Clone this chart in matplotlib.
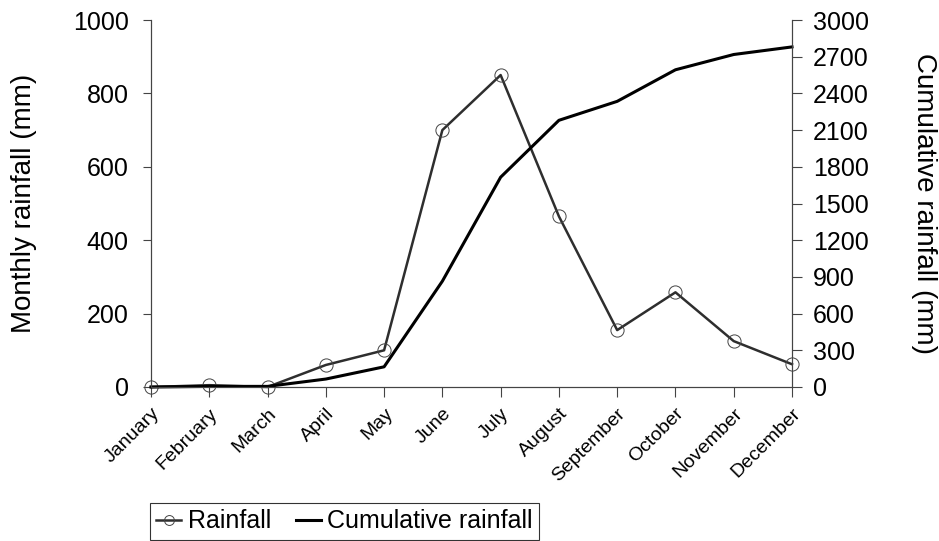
import numpy as np
import matplotlib.pyplot as plt

plt.rcParams['font.family'] = ['Liberation Sans', 'DejaVu Sans']

months = ['January', 'February', 'March', 'April', 'May', 'June', 'July',
          'August', 'September', 'October', 'November', 'December']
rainfall = [0, 5, 0, 60, 100, 700, 850, 465, 155, 258, 125, 62]
cumulative = np.cumsum(rainfall)

fig = plt.figure(figsize=(9.39, 5.41), dpi=100)
ax = fig.add_axes([151 / 939, 1 - 387 / 541, (792 - 151) / 939, (387 - 20) / 541])
ax2 = ax.twinx()

x = np.arange(len(months))
l1, = ax.plot(x, rainfall, color='#2e2e2e', lw=1.8, marker='o', ms=9.5,
              mfc='none', mec='#444444', mew=0.7, label='Rainfall',
              zorder=3, clip_on=False)
l2, = ax2.plot(x, cumulative, color='black', lw=2.2, label='Cumulative rainfall',
               clip_on=False)

ax.set_xlim(0, 11)
ax.set_ylim(0, 1000)
ax.set_yticks(range(0, 1001, 200))
ax2.set_ylim(0, 3000)
ax2.set_yticks(range(0, 3001, 300))

ax.set_xticks(x)
ax.set_xticklabels(months, rotation=45, ha='right', rotation_mode='anchor', fontsize=14)
ax.tick_params(axis='y', labelsize=18, length=6, pad=10, color='#444444')
ax.tick_params(axis='x', length=7, pad=6, color='#444444')
ax2.tick_params(axis='y', labelsize=18, length=7, pad=8, color='#444444')

for a in (ax, ax2):
    a.spines['top'].set_visible(False)
    for s in ('left', 'right', 'bottom'):
        a.spines[s].set_color('#444444')

ax.set_ylabel('Monthly rainfall (mm)', fontsize=20, labelpad=26)
ax2.set_ylabel('Cumulative rainfall (mm)', fontsize=20, rotation=270,
               va='bottom', labelpad=30)

leg = fig.legend(handles=[l1, l2], loc='upper left', ncol=2,
                 bbox_to_anchor=(150 / 939, 1 - 503 / 541), fontsize=18,
                 frameon=True, fancybox=False, handlelength=1.0,
                 handletextpad=0.25, columnspacing=1.0, borderpad=0.25,
                 borderaxespad=0, markerscale=0.75)
leg.get_frame().set_edgecolor('black')
leg.get_frame().set_linewidth(0.8)

fig.savefig('out.png', dpi=100)
